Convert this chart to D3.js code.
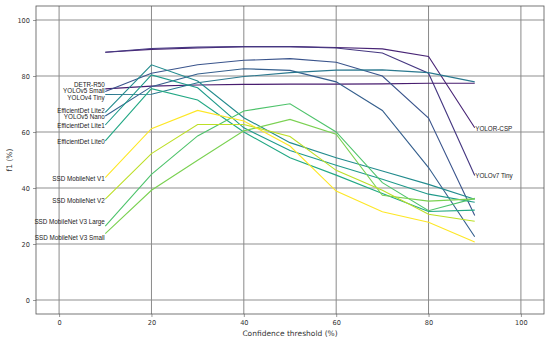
<!DOCTYPE html>
<html>
<head>
<meta charset="utf-8">
<script src="https://cdn.jsdelivr.net/npm/d3@7"></script>
<style>
  body { margin: 0; background: #fff; }
  .tick text { font-family: "DejaVu Sans", sans-serif; font-size: 6.6px; fill: #333; }
  .axis-title { font-family: "DejaVu Sans", sans-serif; font-size: 7.5px; fill: #333; }
  .model-label { font-family: "Liberation Sans", Arial, sans-serif; font-size: 6.3px; fill: #222; }
</style>
</head>
<body>
<div id="chart"></div>
<script>
// confidence thresholds (%)
var thresholds = [10, 20, 30, 40, 50, 60, 70, 80, 90];

// f1 (%) per model, one value per threshold
var yolorCsp       = [88.5, 89.5, 90.0, 90.5, 90.5, 90.2, 89.7, 87.0, 61.5];
var yolov7Tiny     = [88.5, 89.8, 90.3, 90.5, 90.5, 90.0, 88.2, 81.0, 44.5];
var detrR50        = [75.4, 76.4, 76.8, 77.0, 77.1, 77.1, 77.2, 77.4, 77.4];
var yolov5Small    = [74.5, 81.0, 84.0, 85.6, 86.2, 84.9, 80.0, 65.0, 30.2];
var yolov5Nano     = [65.7, 76.2, 80.7, 82.6, 82.0, 77.9, 67.7, 47.3, 22.6];
var yolov4Tiny     = [73.4, 73.5, 77.6, 79.8, 81.2, 82.1, 82.2, 81.2, 77.9];
var effDetLite2    = [67.0, 84.0, 78.2, 65.1, 56.2, 50.8, 46.1, 41.3, 36.0];
var effDetLite1    = [62.5, 80.4, 75.8, 61.5, 53.4, 48.1, 43.1, 37.8, 34.9];
var effDetLite0    = [56.8, 75.5, 71.4, 60.0, 50.8, 44.6, 38.0, 31.6, 32.1];
var ssdV3Large     = [26.4, 44.9, 58.6, 67.5, 70.1, 60.0, 41.9, 31.9, 36.3];
var ssdV3Small     = [23.7, 39.2, 49.9, 60.4, 64.5, 59.2, 37.4, 35.3, 36.1];
var ssdV2          = [36.0, 52.3, 62.7, 62.7, 58.4, 46.3, 39.2, 30.6, 28.1];
var ssdV1          = [43.7, 61.2, 67.7, 63.9, 55.0, 38.9, 31.5, 27.8, 20.7];

var modelNames = ["YOLOR-CSP", "YOLOv7 Tiny", "DETR-R50", "YOLOv5 Small", "YOLOv5 Nano",
  "YOLOv4 Tiny", "EfficientDet Lite2", "EfficientDet Lite1", "EfficientDet Lite0",
  "SSD MobileNet V3 Large", "SSD MobileNet V3 Small", "SSD MobileNet V2", "SSD MobileNet V1"];
var modelValues = [yolorCsp, yolov7Tiny, detrR50, yolov5Small, yolov5Nano, yolov4Tiny,
  effDetLite2, effDetLite1, effDetLite0, ssdV3Large, ssdV3Small, ssdV2, ssdV1];
// where each name label sits (f1 value), and at which end of the line
var labelValues = [61.2, 44.3, 76.9, 74.8, 65.6, 72.3, 67.7, 62.1, 56.4, 27.9, 22.1, 35.6, 43.3];
var labelSide   = ["right", "right", "left", "left", "left", "left", "left", "left", "left",
  "left", "left", "left", "left"];

var xTicks = [0, 20, 40, 60, 80, 100];
var yTicks = [0, 20, 40, 60, 80, 100];

// position of each model along the viridis colormap
var colorStops = [0.1, 0.16, 0.08, 0.26, 0.3, 0.4, 0.48, 0.54, 0.6, 0.72, 0.8, 0.9, 1.0];

var svgWidth = 550;
var svgHeight = 343;
var margin = { top: 6, right: 6, bottom: 29, left: 36 };
var width = svgWidth - margin.left - margin.right;
var height = svgHeight - margin.top - margin.bottom;

var svg = d3.select("#chart")
  .append("svg")
  .attr("width", svgWidth)
  .attr("height", svgHeight);

var chartGroup = svg.append("g")
  .attr("transform", `translate(${margin.left}, ${margin.top})`);

var xScale = d3.scaleLinear().domain([-5, 105]).range([0, width]);
var yScale = d3.scaleLinear().domain([-5, 105]).range([height, 0]);

// grid
chartGroup.append("g")
  .selectAll("line")
  .data(yTicks)
  .enter()
  .append("line")
  .attr("x1", 0)
  .attr("x2", width)
  .attr("y1", d => yScale(d))
  .attr("y2", d => yScale(d))
  .attr("stroke", "#b4b4b4")
  .attr("stroke-width", 1.4);

chartGroup.append("g")
  .selectAll("line")
  .data(xTicks)
  .enter()
  .append("line")
  .attr("x1", d => xScale(d))
  .attr("x2", d => xScale(d))
  .attr("y1", 0)
  .attr("y2", height)
  .attr("stroke", "#8a8a8a")
  .attr("stroke-width", 1);

// axes
var bottomAxis = d3.axisBottom(xScale).tickValues(xTicks).tickSize(3).tickPadding(3);
var leftAxis = d3.axisLeft(yScale).tickValues(yTicks).tickSize(3).tickPadding(3);

var xAxis = chartGroup.append("g")
  .attr("transform", `translate(0, ${height})`)
  .call(bottomAxis);
var yAxis = chartGroup.append("g").call(leftAxis);

[xAxis, yAxis].forEach(function(ax) {
  ax.select(".domain").remove();
  ax.selectAll(".tick line").attr("stroke", "#555").attr("stroke-width", 0.6);
});

// frame
chartGroup.append("rect")
  .attr("width", width)
  .attr("height", height)
  .attr("fill", "none")
  .attr("stroke", "#555")
  .attr("stroke-width", 0.8);

// lines
var line = d3.line()
  .x((d, i) => xScale(thresholds[i]))
  .y(d => yScale(d));

chartGroup.append("g")
  .selectAll("path")
  .data(modelValues)
  .enter()
  .append("path")
  .attr("d", d => line(d))
  .attr("fill", "none")
  .attr("stroke", (d, i) => d3.interpolateViridis(colorStops[i]))
  .attr("stroke-width", 1.1);

// model labels at line ends
chartGroup.append("g")
  .selectAll("text")
  .data(modelNames)
  .enter()
  .append("text")
  .attr("class", "model-label")
  .attr("x", (d, i) => labelSide[i] === "left" ? xScale(thresholds[0]) - 0.5 : xScale(thresholds[thresholds.length - 1]) + 0.5)
  .attr("y", (d, i) => yScale(labelValues[i]))
  .attr("dy", "0.35em")
  .attr("text-anchor", (d, i) => labelSide[i] === "left" ? "end" : "start")
  .text(d => d);

// axis titles
svg.append("text")
  .attr("class", "axis-title")
  .attr("x", margin.left + xScale(50))
  .attr("y", 336)
  .attr("text-anchor", "middle")
  .text("Confidence threshold (%)");

svg.append("text")
  .attr("class", "axis-title")
  .attr("transform", `translate(12, ${margin.top + yScale(50)})rotate(-90)`)
  .attr("text-anchor", "middle")
  .text("f1 (%)");
</script>
</body>
</html>
